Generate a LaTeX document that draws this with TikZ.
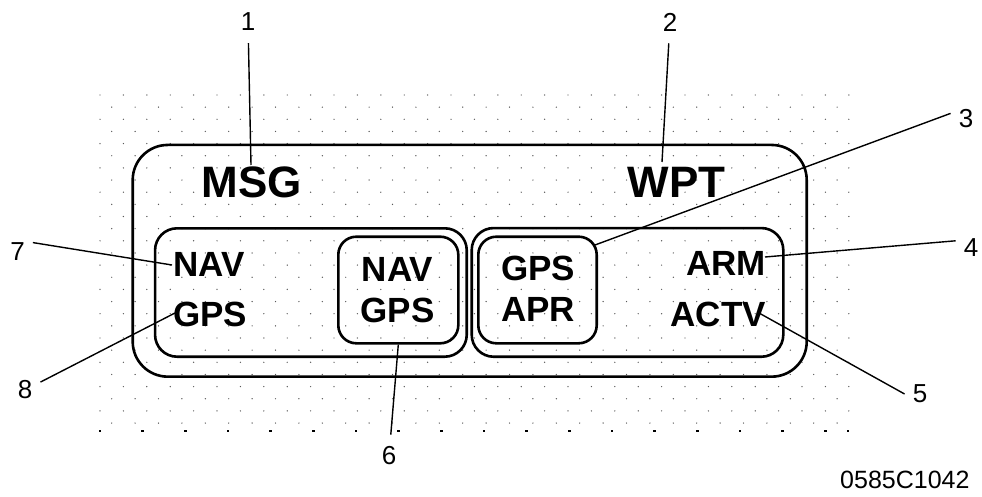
\documentclass[tikz,border=0pt]{standalone}
\usepackage{fontspec}
\setmainfont{Liberation Sans}
\tikzset{
  panel/.style={draw, line width=2.6pt, rounded corners=#1, inner sep=0pt},
  bigtag/.style={font=\fontsize{44}{48}\selectfont\bfseries, inner sep=0pt, anchor=base},
  tag/.style={font=\fontsize{35}{40}\selectfont\bfseries, inner sep=0pt},
  callout/.style={font=\fontsize{26}{30}\selectfont, inner xsep=8pt, inner ysep=12pt},
  leader/.style={line width=1.4pt},
  stip/.style={fill=black!65}
}
\begin{document}
\begin{tikzpicture}[x=1pt, y=-1pt]
  \useasboundingbox (0,0) rectangle (982,497);

  \foreach \k in {0,2,...,26}
    \foreach \i in {0,...,32}
      \fill[stip] ({100+23.4*\i},{95+12.15*\k}) circle (0.7pt);
  \foreach \k in {1,3,...,27}
    \foreach \i in {0,...,31}
      \fill[stip] ({111.7+23.4*\i},{95+12.15*\k}) circle (0.7pt);
  \foreach \j in {0,...,17}
    \fill ({100+42.67*\j},431) +(-1.3pt,-1.3pt) rectangle +(1.3pt,1.3pt);
  \fill (848,431) +(-0.7pt,-1.3pt) rectangle +(0.7pt,1.3pt);

  \node[panel=35pt, minimum width=674pt, minimum height=231.7pt] (frame) at (469.7,260.8) {};
  \node[panel=22pt, minimum width=311.7pt, minimum height=128.4pt] (navpanel) at (310.9,292.5) {};
  \node[panel=22pt, minimum width=311.6pt, minimum height=128.7pt] (wptpanel) at (627.5,292.4) {};
  \node[panel=18pt, minimum width=120pt, minimum height=106.6pt] (navbox) at (398.3,290) {};
  \node[panel=18pt, minimum width=118.4pt, minimum height=106.6pt] (aprbox) at (537.5,290) {};

  \node[bigtag] (msg) at (251.7,198) {MSG};
  \node[bigtag] (wpt) at (676.7,198) {WPT};

  \node[tag, anchor=base west] (nav) at (173,276) {NAV};
  \node[tag, anchor=base west] (gps) at (173,326) {GPS};
  \node[tag, anchor=base] (navin) at (397.5,281) {NAV};
  \node[tag, anchor=base] (gpsin) at (397.5,322.5) {GPS};
  \node[tag, anchor=base] (gpsapr) at (538,280) {GPS};
  \node[tag, anchor=base] (apr) at (538,321.5) {APR};
  \node[tag, anchor=base east] (arm) at (766,275) {ARM};
  \node[tag, anchor=base east] (actv) at (766,326) {ACTV};

  \node[callout] (c1) at (248,22) {1};
  \node[callout] (c2) at (670,22) {2};
  \node[callout] (c3) at (966,119) {3};
  \node[callout] (c4) at (971,248) {4};
  \node[callout] (c5) at (920,394) {5};
  \node[callout] (c6) at (389,456) {6};
  \node[callout] (c7) at (17.5,251.5) {7};
  \node[callout] (c8) at (25,390) {8};

  \coordinate (p1) at (251,165);
  \coordinate (p2) at (662,162);
  \coordinate (p3) at (595,245);
  \coordinate (p4) at (765,257);
  \coordinate (p5) at (759,313);
  \coordinate (p7) at (172,265);
  \coordinate (p8) at (175,313);

  \draw[leader] (c1) -- (p1);
  \draw[leader] (c2) -- (p2);
  \draw[leader] (c3.160) -- (p3);
  \draw[leader] (c4.155) -- (p4);
  \draw[leader] (c5.west) -- (p5);
  \draw[leader] (c6) -- (navbox.south);
  \draw[leader] (c7.30) -- (p7);
  \draw[leader] (c8) -- (p8);

  \node[font=\fontsize{25}{28}\selectfont, inner sep=0pt, anchor=base west] (code) at (840,488) {0585C1042};
\end{tikzpicture}
\end{document}
